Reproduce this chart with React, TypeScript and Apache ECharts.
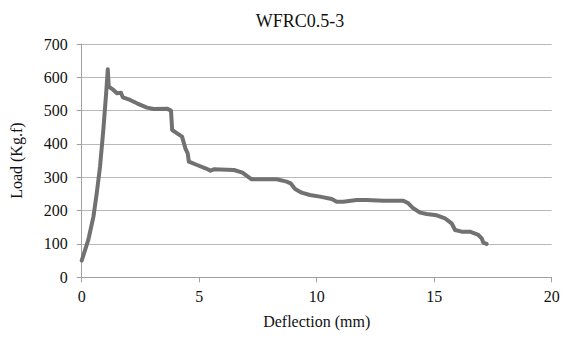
import React, { useEffect, useRef } from "react";
import * as echarts from "echarts";

const titleText = "WFRC0.5-3";
const xAxisName = "Deflection (mm)";
const yAxisName = "Load (Kg.f)";

const deflection = [
  0.0, 0.28, 0.5, 0.64, 0.78, 0.92, 1.04, 1.11, 1.15, 1.35, 1.5, 1.67, 1.75, 2.06, 2.35, 2.78,
  3.06, 3.63, 3.8, 3.85, 4.06, 4.27, 4.41, 4.51, 4.56, 4.91, 5.27, 5.48, 5.62, 6.48, 6.84,
  7.23, 7.59, 8.3, 8.72, 8.89, 9.08, 9.36, 9.71, 10.14, 10.64, 10.85, 11.13, 11.7, 12.13,
  12.83, 13.69, 13.9, 14.11, 14.4, 14.68, 15.11, 15.46, 15.74, 15.89, 16.17, 16.52, 16.88,
  17.02, 17.09, 17.23,
];
const load = [
  50, 112, 182, 252, 332, 442, 552, 624, 572, 562, 552, 554, 540, 532, 522, 509,
  505, 506, 500, 442, 432, 422, 387, 372, 347, 337, 327, 320, 324, 322, 314,
  294, 294, 294, 287, 282, 265, 254, 247, 242, 235, 227, 227, 232, 232,
  230, 230, 222, 207, 194, 190, 186, 177, 162, 142, 137, 137, 127,
  117, 104, 100,
];

const FONT = "Times New Roman, Liberation Serif, DejaVu Serif, serif";

export default function App() {
  const ref = useRef<HTMLDivElement>(null);
  useEffect(() => {
    if (!ref.current) return;
    const chart = echarts.init(ref.current, null, { renderer: "svg" });
    const data = deflection.map((x, i) => [x, load[i]]);
    chart.setOption({
      animation: false,
      backgroundColor: "#ffffff",
      textStyle: { fontFamily: FONT },
      title: {
        text: titleText,
        left: 295,
        top: 7,
        textAlign: "center",
        textStyle: { fontFamily: FONT, fontSize: 18, fontWeight: "normal", color: "#111" },
      },
      grid: { left: 81.7, right: 11.3, top: 44, bottom: 60.7, containLabel: false },
      xAxis: {
        type: "value",
        min: 0,
        max: 20,
        interval: 5,
        name: xAxisName,
        nameLocation: "middle",
        nameGap: 36,
        nameTextStyle: { fontFamily: FONT, fontSize: 16, color: "#111" },
        axisLine: { show: true, lineStyle: { color: "#a0a0a0", width: 1 } },
        axisTick: { show: true, length: 5, lineStyle: { color: "#a0a0a0" } },
        axisLabel: { fontFamily: FONT, fontSize: 16, color: "#111", margin: 11 },
        splitLine: { show: false },
      },
      yAxis: {
        type: "value",
        min: 0,
        max: 700,
        interval: 100,
        name: yAxisName,
        nameLocation: "middle",
        nameGap: 57,
        nameRotate: 90,
        nameTextStyle: { fontFamily: FONT, fontSize: 16, color: "#111" },
        axisLine: { show: true, lineStyle: { color: "#a0a0a0", width: 1 } },
        axisTick: { show: true, length: 5, lineStyle: { color: "#a0a0a0" } },
        axisLabel: { fontFamily: FONT, fontSize: 16, color: "#111", margin: 14 },
        splitLine: { show: true, lineStyle: { color: "#b8b8b8", width: 1 } },
      },
      series: [
        {
          type: "line",
          data,
          showSymbol: false,
          smooth: false,
          lineStyle: { color: "#717171", width: 4, join: "round", cap: "round" },
        },
      ],
    });
    return () => chart.dispose();
  }, []);
  return <div ref={ref} style={{ width: 563, height: 338, position: "absolute", left: 0, top: 0 }} />;
}
